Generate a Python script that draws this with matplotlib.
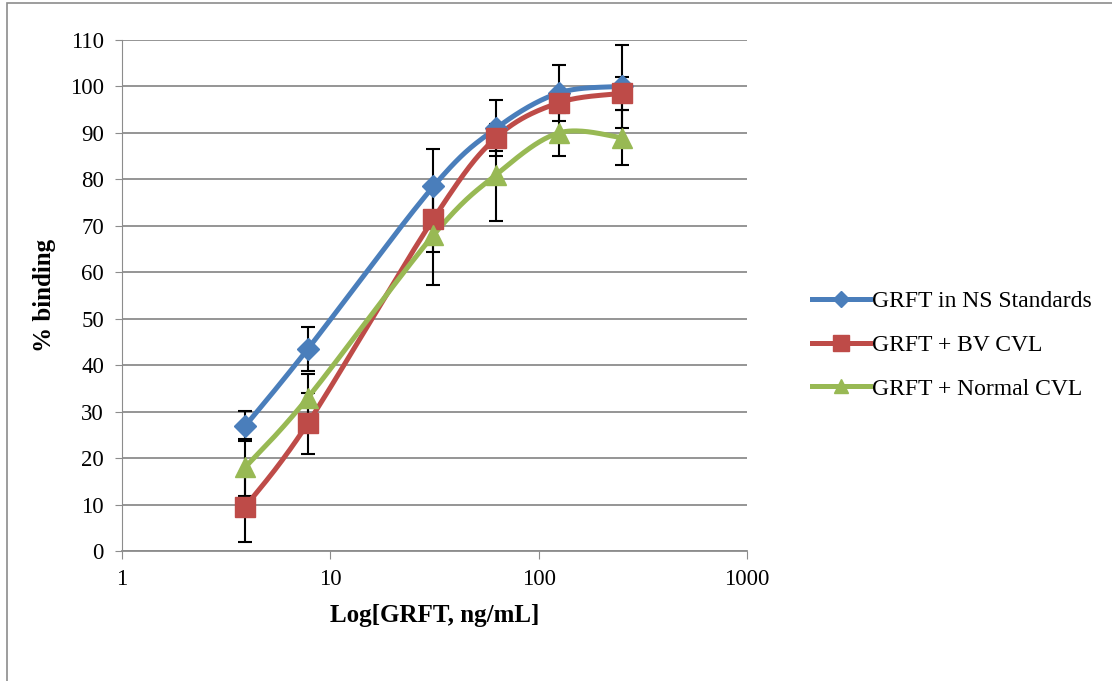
import numpy as np
import matplotlib
matplotlib.use("Agg")
import matplotlib.pyplot as plt
from matplotlib.lines import Line2D
from matplotlib.patches import Rectangle

plt.rcParams['font.family'] = ['Liberation Serif', 'DejaVu Serif']

conc = [3.9, 7.8, 31.25, 62.5, 125, 250]

ns_std = [26.9, 43.5, 78.5, 91.0, 98.6, 100.0]
ns_err = [3.3, 4.7, 8.0, 6.0, 6.0, 9.0]

bv_cvl = [9.5, 27.5, 71.5, 89.0, 96.5, 98.5]
bv_err = [7.5, 6.6, 7.1, 3.0, 2.2, 3.5]

normal_cvl = [18.0, 33.0, 68.0, 81.0, 90.0, 89.0]
normal_err = [6.2, 5.0, 10.7, 10.0, 5.0, 6.0]

labels = ["GRFT in NS Standards", "GRFT + BV CVL", "GRFT + Normal CVL"]
colors = ["#4A7EBB", "#BE4B48", "#98B954"]
markers = ["D", "s", "^"]
msizes = [11, 14.5, 14]

fig = plt.figure(figsize=(11.12, 6.81), dpi=100)
ax = fig.add_axes([122 / 1112, 1 - 551 / 681, (747 - 122) / 1112, (551 - 40) / 681])

# scale factors so the spline is computed in roughly on-screen proportions
SX, SY = 208.3, 4.645


def smooth(xs, ys, n=40, tension=0.5):
    px = np.log10(xs) * SX
    py = np.asarray(ys) * SY
    P = np.column_stack([px, py])
    out = []
    for i in range(len(P) - 1):
        p0 = P[i - 1] if i > 0 else P[i]
        p1, p2 = P[i], P[i + 1]
        p3 = P[i + 2] if i + 2 < len(P) else P[i + 1]
        m1 = tension * (p2 - p0) * (2 / 3)
        m2 = tension * (p3 - p1) * (2 / 3)
        c1 = p1 + m1 / 2
        c2 = p2 - m2 / 2
        t = np.linspace(0, 1, n)[:, None]
        seg = ((1 - t) ** 3) * p1 + 3 * ((1 - t) ** 2) * t * c1 + 3 * (1 - t) * t ** 2 * c2 + t ** 3 * p2
        out.append(seg if i == 0 else seg[1:])
    S = np.vstack(out)
    return 10 ** (S[:, 0] / SX), S[:, 1] / SY


series = [(ns_std, ns_err), (bv_cvl, bv_err), (normal_cvl, normal_err)]

for (vals, errs), c in zip(series, colors):
    ax.errorbar(conc, vals, yerr=errs, fmt='none', ecolor='black', elinewidth=1.5,
                capsize=5, capthick=1.5, zorder=2)

for (vals, errs), c, m, ms in zip(series, colors, markers, msizes):
    sx, sy = smooth(conc, vals)
    ax.plot(sx, sy, color=c, lw=3.6, zorder=3, solid_capstyle='round')
    ax.plot(conc, vals, ls='none', marker=m, color=c, markersize=ms, zorder=4)

ax.set_xscale('log')
ax.set_xlim(1, 1000)
ax.set_ylim(0, 110)
ax.set_yticks(range(0, 111, 10))
ax.set_xticks([1, 10, 100, 1000])
ax.set_xticklabels(['1', '10', '100', '1000'])
ax.xaxis.set_minor_locator(matplotlib.ticker.NullLocator())
ax.grid(axis='y', color='#8c8c8c', lw=1.3)
ax.set_axisbelow(True)
for s in ['top', 'right']:
    ax.spines[s].set_visible(False)
ax.spines['left'].set_color('#8c8c8c')
ax.spines['bottom'].set_color('#8c8c8c')
ax.spines['bottom'].set_linewidth(1.3)
ax.tick_params(axis='y', length=5, color='#8c8c8c', labelsize=16.5, pad=8)
ax.tick_params(axis='x', length=6, color='#8c8c8c', labelsize=16.5, pad=7)
ax.set_xlabel('Log[GRFT, ng/mL]', fontsize=18, fontweight='bold', labelpad=10)
ax.set_ylabel('% binding', fontsize=18, fontweight='bold', labelpad=10)

handles = [Line2D([0], [0], color=c, lw=3.6, marker=m, markersize=ms * 0.75)
           for c, m, ms in zip(colors, markers, msizes)]
fig.legend(handles, labels, loc='center left', bbox_to_anchor=(812 / 1112, 1 - 345 / 681),
           frameon=False, fontsize=17, handlelength=2.45, handletextpad=0.08,
           labelspacing=0.95, borderaxespad=0, borderpad=0)

fig.patches.append(Rectangle((7 / 1112, -0.1), 1.2, 1 - 3 / 681 + 0.1, transform=fig.transFigure,
                             fill=False, edgecolor='#8c8c8c', lw=1.2))

fig.savefig('out.png', dpi=100)
